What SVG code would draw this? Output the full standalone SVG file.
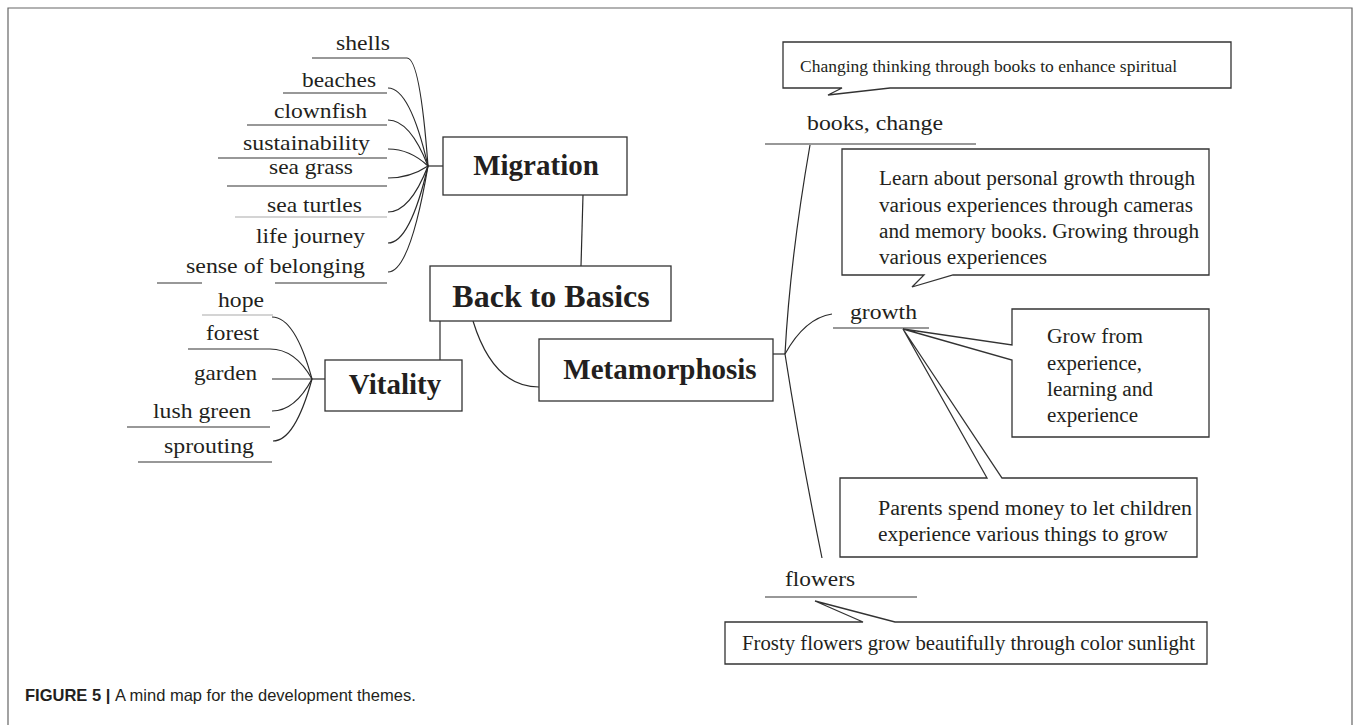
<svg xmlns="http://www.w3.org/2000/svg" width="1357" height="725" viewBox="0 0 1357 725">
<style>
.frame{fill:none;stroke:#666;stroke-width:1.2}
.box{fill:#fff;stroke:#333;stroke-width:1.3}
.ln{fill:none;stroke:#2a2a2a;stroke-width:1.2}
.ul{fill:none;stroke:#333;stroke-width:1.2}
.ulg{fill:none;stroke:#aaa;stroke-width:1.2}
.t{font-family:"Liberation Serif","Times New Roman",serif;fill:#231f20}
.lab{font-size:22px}
.cal{font-size:20px}
.title{font-weight:bold;font-size:29px;text-anchor:middle}
.cap{font-family:"Liberation Sans",Arial,sans-serif;font-size:16.5px;fill:#231f20}
</style>
<rect width="1357" height="725" fill="#fff"/>
<path class="frame" d="M8,725 V8 H1352 V725"/>

<g id="connectors">
  <line class="ln" x1="583" y1="195" x2="581" y2="266"/>
  <line class="ln" x1="440" y1="321" x2="440" y2="360"/>
  <path class="ln" d="M473,321 C485,360 505,387 539,387"/>
  <line class="ln" x1="428" y1="166" x2="443" y2="166"/>
  <path class="ln" d="M407,58 Q420,58 428,166"/>
  <path class="ln" d="M388,88 Q410,88 428,166"/>
  <path class="ln" d="M388,120 Q410,120 428,166"/>
  <path class="ln" d="M388,149 Q410,149 428,166"/>
  <path class="ln" d="M388,178 Q410,178 428,166"/>
  <path class="ln" d="M388,212 Q410,212 428,166"/>
  <path class="ln" d="M388,243 Q410,243 428,166"/>
  <path class="ln" d="M388,272 Q410,272 428,166"/>
  <line class="ln" x1="312" y1="379" x2="325" y2="379"/>
  <path class="ln" d="M272,317 Q295,317 312,379"/>
  <path class="ln" d="M270,349 Q295,349 312,379"/>
  <line class="ln" x1="272" y1="379" x2="312" y2="379"/>
  <path class="ln" d="M272,411 Q295,411 312,379"/>
  <path class="ln" d="M273,441 Q295,441 312,379"/>
  <line class="ln" x1="773" y1="354" x2="785" y2="354"/>
  <path class="ln" d="M785,354 Q790,260 810,145"/>
  <path class="ln" d="M785,354 Q805,318 832,314"/>
  <path class="ln" d="M785,354 Q800,450 822,558"/>
</g>

<g id="node-back-to-basics">
  <rect class="box" x="430" y="266" width="241" height="55"/>
  <text class="t title" x="551" y="307" style="font-size:32px">Back to Basics</text>
</g>
<g id="node-migration">
  <rect class="box" x="443" y="137" width="184" height="58"/>
  <text class="t title" x="536" y="175">Migration</text>
</g>
<g id="node-vitality">
  <rect class="box" x="325" y="360" width="137" height="51"/>
  <text class="t title" x="395" y="394">Vitality</text>
</g>
<g id="node-metamorphosis">
  <rect class="box" x="539" y="339" width="234" height="62"/>
  <text class="t title" x="660" y="379">Metamorphosis</text>
</g>

<g id="node-shells">
  <text class="t lab" x="336" y="50" textLength="54" lengthAdjust="spacingAndGlyphs">shells</text>
  <line class="ul" x1="312" y1="58" x2="407" y2="58"/>
</g>
<g id="node-beaches">
  <text class="t lab" x="302" y="87" textLength="74" lengthAdjust="spacingAndGlyphs">beaches</text>
  <line class="ul" x1="283" y1="93" x2="387" y2="93"/>
</g>
<g id="node-clownfish">
  <text class="t lab" x="274" y="118" textLength="93" lengthAdjust="spacingAndGlyphs">clownfish</text>
  <line class="ul" x1="247" y1="125" x2="387" y2="125"/>
</g>
<g id="node-sustainability">
  <text class="t lab" x="243" y="150" textLength="127" lengthAdjust="spacingAndGlyphs">sustainability</text>
  <line class="ul" x1="218" y1="158" x2="387" y2="158"/>
</g>
<g id="node-sea-grass">
  <text class="t lab" x="269" y="174" textLength="84" lengthAdjust="spacingAndGlyphs">sea grass</text>
  <line class="ul" x1="227" y1="186" x2="387" y2="186"/>
</g>
<g id="node-sea-turtles">
  <text class="t lab" x="267" y="212" textLength="95" lengthAdjust="spacingAndGlyphs">sea turtles</text>
  <line class="ulg" x1="235" y1="217" x2="387" y2="217"/>
</g>
<g id="node-life-journey">
  <text class="t lab" x="256" y="243" textLength="109" lengthAdjust="spacingAndGlyphs">life journey</text>
</g>
<g id="node-sense-of-belonging">
  <text class="t lab" x="186" y="273" textLength="179" lengthAdjust="spacingAndGlyphs">sense of belonging</text>
  <line class="ul" x1="157" y1="283" x2="202" y2="283"/>
  <line class="ul" x1="275" y1="283" x2="387" y2="283"/>
</g>

<g id="node-hope">
  <text class="t lab" x="218" y="307" textLength="46" lengthAdjust="spacingAndGlyphs">hope</text>
  <line class="ulg" x1="202" y1="315" x2="273" y2="315"/>
</g>
<g id="node-forest">
  <text class="t lab" x="206" y="340" textLength="53" lengthAdjust="spacingAndGlyphs">forest</text>
  <line class="ul" x1="188" y1="349" x2="270" y2="349"/>
</g>
<g id="node-garden">
  <text class="t lab" x="194" y="380" textLength="63" lengthAdjust="spacingAndGlyphs">garden</text>
</g>
<g id="node-lush-green">
  <text class="t lab" x="153" y="418" textLength="98" lengthAdjust="spacingAndGlyphs">lush green</text>
  <line class="ul" x1="127" y1="427" x2="270" y2="427"/>
</g>
<g id="node-sprouting">
  <text class="t lab" x="164" y="453" textLength="90" lengthAdjust="spacingAndGlyphs">sprouting</text>
  <line class="ul" x1="138" y1="462" x2="272" y2="462"/>
</g>

<g id="node-books-change">
  <text class="t lab" x="807" y="130" textLength="136" lengthAdjust="spacingAndGlyphs">books, change</text>
  <line class="ul" x1="765" y1="144" x2="976" y2="144"/>
</g>
<g id="node-growth">
  <text class="t lab" x="850" y="319" textLength="67" lengthAdjust="spacingAndGlyphs">growth</text>
  <line class="ul" x1="833" y1="328" x2="929" y2="328"/>
</g>
<g id="node-flowers">
  <text class="t lab" x="785" y="586" textLength="70" lengthAdjust="spacingAndGlyphs">flowers</text>
  <line class="ul" x1="765" y1="597" x2="917" y2="597"/>
</g>

<g id="callout-books">
  <path class="box" d="M783,42 H1231 V88 H890 L828,95 L842,88 H783 Z"/>
  <text class="t" x="800" y="72" font-size="17.5">Changing thinking through books to enhance spiritual</text>
</g>
<g id="callout-learn">
  <path class="box" d="M842,149 H1209 V275 H953 L912,287 L924,275 H842 Z"/>
  <text class="t cal" x="879" y="185" textLength="316" lengthAdjust="spacingAndGlyphs">Learn about personal growth through</text>
  <text class="t cal" x="879" y="212" textLength="314" lengthAdjust="spacingAndGlyphs">various experiences through cameras</text>
  <text class="t cal" x="879" y="238" textLength="320" lengthAdjust="spacingAndGlyphs">and memory books. Growing through</text>
  <text class="t cal" x="879" y="264" textLength="168" lengthAdjust="spacingAndGlyphs">various experiences</text>
</g>
<g id="callout-grow">
  <path class="box" d="M1012,309 H1209 V437 H1012 V360 L903,329 L1012,345 Z"/>
  <text class="t cal" x="1047" y="343" textLength="96" lengthAdjust="spacingAndGlyphs">Grow from</text>
  <text class="t cal" x="1047" y="370" textLength="95" lengthAdjust="spacingAndGlyphs">experience,</text>
  <text class="t cal" x="1047" y="396" textLength="106" lengthAdjust="spacingAndGlyphs">learning and</text>
  <text class="t cal" x="1047" y="422" textLength="91" lengthAdjust="spacingAndGlyphs">experience</text>
</g>
<g id="callout-parents">
  <path class="box" d="M840,478 H987 L903,329 L1002,478 H1197 V557 H840 Z"/>
  <text class="t cal" x="878" y="515" textLength="314" lengthAdjust="spacingAndGlyphs">Parents spend money to let children</text>
  <text class="t cal" x="878" y="541" textLength="290" lengthAdjust="spacingAndGlyphs">experience various things to grow</text>
</g>
<g id="callout-flowers">
  <path class="box" d="M725,622 H863 L815,601 L895,622 H1207 V664 H725 Z"/>
  <text class="t" x="742" y="650" font-size="21" textLength="453" lengthAdjust="spacingAndGlyphs">Frosty flowers grow beautifully through color sunlight</text>
</g>

<text class="cap" x="25" y="701"><tspan font-weight="bold">FIGURE 5 | </tspan>A mind map for the development themes.</text>
</svg>
